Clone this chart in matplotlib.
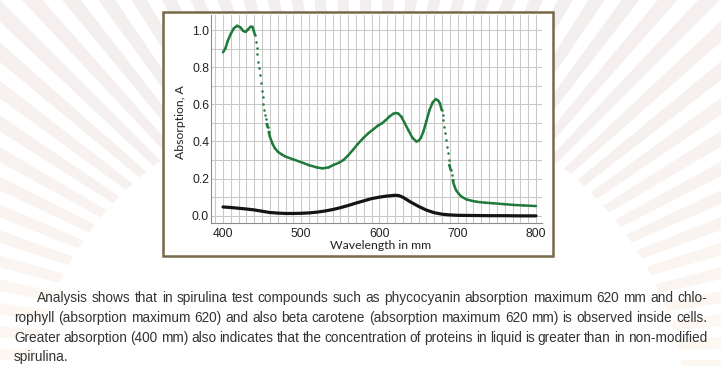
import numpy as np
import matplotlib
matplotlib.use("Agg")
import matplotlib.pyplot as plt
import matplotlib.colors as mcolors
from matplotlib.patches import Wedge, Circle, Rectangle
from matplotlib.collections import LineCollection

# ---------------- data ----------------
green_wl = [400, 403, 406, 410, 414, 418, 422, 426, 429, 432,
            435, 437, 438, 439.6, 440.9, 442.2, 443.0, 443.8, 445.1, 446.4,
            447.3, 448.6, 449.8, 450.7, 451.5, 452.4, 453.7, 454.6, 455.8, 457.1,
            458.4, 460, 463, 466, 470, 475, 480, 490, 500, 510,
            520, 527, 535, 541, 548, 554, 560, 566, 572, 579,
            586, 592, 598, 603, 608, 613, 618, 621, 624, 628,
            632, 637, 642, 647, 650, 653, 656, 660, 664, 668,
            672, 675, 677.3, 679.4, 680.7, 681.5, 682.8, 684.1, 685.0, 685.9,
            687.2, 688.4, 689.3, 691.0, 692.3, 693.6, 695.3, 697.8, 700.7, 705,
            711, 718, 724, 735, 745, 760, 771, 785, 800]
green_abs = [0.88, 0.90, 0.94, 0.98, 1.01, 1.023, 1.015, 0.995, 0.99, 1.003,
             1.017, 1.018, 1.014, 0.991, 0.973, 0.937, 0.901, 0.869, 0.829, 0.794,
             0.758, 0.713, 0.673, 0.638, 0.601, 0.569, 0.542, 0.519, 0.494, 0.476,
             0.452, 0.425, 0.39, 0.365, 0.345, 0.33, 0.318, 0.303, 0.288, 0.272,
             0.26, 0.255, 0.26, 0.273, 0.285, 0.30, 0.325, 0.354, 0.385, 0.417,
             0.445, 0.465, 0.485, 0.497, 0.515, 0.535, 0.55, 0.553, 0.55, 0.533,
             0.50, 0.46, 0.42, 0.40, 0.403, 0.42, 0.452, 0.51, 0.57, 0.61,
             0.628, 0.62, 0.605, 0.569, 0.542, 0.515, 0.479, 0.444, 0.408, 0.372,
             0.336, 0.300, 0.273, 0.246, 0.219, 0.192, 0.165, 0.138, 0.121, 0.102,
             0.088, 0.080, 0.075, 0.070, 0.067, 0.062, 0.058, 0.055, 0.052]

black_wl = [400, 410, 420, 430, 440, 450, 460, 470, 480, 490,
            500, 510, 520, 530, 540, 550, 560, 570, 580, 590,
            600, 610, 620, 625, 630, 640, 650, 660, 670, 680,
            690, 700, 720, 740, 760, 780, 800]
black_abs = [0.047, 0.044, 0.040, 0.036, 0.031, 0.024, 0.017, 0.014, 0.012, 0.012,
             0.013, 0.015, 0.019, 0.025, 0.033, 0.043, 0.055, 0.068, 0.080, 0.092,
             0.100, 0.106, 0.110, 0.108, 0.099, 0.073, 0.050, 0.030, 0.016, 0.008,
             0.004, 0.002, 0.001, 0.000, 0.000, -0.001, -0.001]

x_ticks = [400, 500, 600, 700, 800]
y_ticks = [0.0, 0.2, 0.4, 0.6, 0.8, 1.0]
x_label = "Wavelength in mm"
y_label = "Absorption, A"

paragraph = [
    "Analysis shows that in spirulina test compounds such as phycocyanin absorption maximum 620 mm and chlo-",
    "rophyll (absorption maximum 620) and also beta carotene (absorption maximum 620 mm) is observed inside cells.",
    "Greater absorption (400 mm) also indicates that the concentration of proteins in liquid is greater than in non-modified",
    "spirulina.",
]

# ---------------- figure / background ----------------
W, H = 721, 366
fig = plt.figure(figsize=(W / 100, H / 100), dpi=100)
bg = fig.add_axes([0, 0, 1, 1])
bg.set_xlim(0, W)
bg.set_ylim(H, 0)
bg.axis("off")

cx, cy = 360, 360
c_top = np.array(mcolors.to_rgb("#f4efef"))
c_low = np.array(mcolors.to_rgb("#fdf7f1"))
step = 3.6
for a in np.arange(0, 360, step):
    mid = np.deg2rad(a + step / 4)
    up = -np.sin(mid)
    t = np.clip((up - 0.1) / 0.7, 0, 1)
    col = c_low * (1 - t) + c_top * t
    bg.add_patch(Wedge((cx, cy), 900, a, a + step / 2, facecolor=col,
                       edgecolor="none", zorder=0))
bg.add_patch(Circle((357, 427), 331, facecolor="white", edgecolor="none", zorder=1))
bg.add_patch(Rectangle((163, 12), 390, 244, facecolor="white",
                       edgecolor="#786848", lw=1.8, zorder=2))

# ---------------- paragraph (justified) ----------------
tfam = "Liberation Sans"
tcol = "#333333"
renderer = fig.canvas.get_renderer()


def wwidth(s, fs):
    t = bg.text(0, 0, s, fontsize=fs, family=tfam)
    w = t.get_window_extent(renderer).width
    t.remove()
    return w


fs = 10.0 * (707 - 14) / wwidth(paragraph[1], 10.0)
space_w = wwidth("x x", fs) - wwidth("xx", fs)
starts = [37, 14, 14, 14]
baselines = [302, 322, 342, 361]
x_end = 707
for i, line in enumerate(paragraph):
    words = line.split(" ")
    widths = [wwidth(w, fs) for w in words]
    if i < len(paragraph) - 1:
        gap = (x_end - starts[i] - sum(widths)) / (len(words) - 1)
    else:
        gap = space_w
    x = starts[i]
    for w, wd in zip(words, widths):
        bg.text(x, baselines[i], w, fontsize=fs, family=tfam, color=tcol,
                ha="left", va="baseline", zorder=3)
        x += wd + gap

# ---------------- chart axes ----------------
L, R, T, B = 210.7, 541.7, 15.0, 223.3
ax = fig.add_axes([L / W, 1 - B / H, (R - L) / W, (B - T) / H])
ax.set_facecolor("white")
ax.set_xlim(384.3, 807.3)
ax.set_ylim(-0.041, 1.081)

ax.set_xticks(x_ticks)
ax.set_xticklabels([str(v) for v in x_ticks])
ax.set_yticks(y_ticks)
ax.set_yticklabels([f"{v:.1f}" for v in y_ticks])
ax.set_xticks(np.arange(390, 801, 10), minor=True)
ax.set_yticks(np.arange(0, 1.001, 0.1), minor=True)
ax.grid(which="both", color="#c8c8c8", lw=0.75, zorder=0)
ax.set_axisbelow(True)
ax.tick_params(axis="both", which="both", length=0, labelsize=8.7,
               labelcolor="#222222")
ax.tick_params(axis="y", pad=1.2)
ax.tick_params(axis="x", pad=3.2)
for lab in ax.get_xticklabels() + ax.get_yticklabels():
    lab.set_family(tfam)
for s in ["top", "right"]:
    ax.spines[s].set_visible(False)
for s in ["left", "bottom"]:
    ax.spines[s].set_color("#8c8c8c")
    ax.spines[s].set_linewidth(0.8)

ax.set_xlabel(x_label, family="Lato", fontsize=8.8, color="#222222")
ax.set_ylabel(y_label, family="Lato", fontsize=8.8, color="#222222")
ax.xaxis.set_label_coords((380.7 - L) / (R - L), (B - 245.5) / (B - T))
ax.xaxis.label.set_va("center")
ax.yaxis.set_label_coords((180 - L) / (R - L), (B - 122) / (B - T))
ax.yaxis.label.set_va("center")

# black curve
ax.plot(black_wl, black_abs, color="#141414", lw=2.3, solid_capstyle="round",
        zorder=3)

# green curve: solid where gentle, dotted samples where steep
gw = np.array(green_wl, dtype=float)
ga = np.array(green_abs, dtype=float)
slope = np.abs(np.diff(ga) / np.diff(gw))
steep = slope > 0.018
green = "#1f7a3b"
segs = [[(gw[i], ga[i]), (gw[i + 1], ga[i + 1])] for i in range(len(gw) - 1)
        if not steep[i]]
ax.add_collection(LineCollection(segs, colors=green, linewidths=1.8,
                                 capstyle="round", joinstyle="round", zorder=4))
dot_idx = sorted(set(np.where(steep)[0]).union(set(np.where(steep)[0] + 1)))
ax.plot(gw[dot_idx], ga[dot_idx], linestyle="none", marker="o", ms=1.8,
        mfc=green, mec=green, mew=0, zorder=4)

fig.savefig("out.png", dpi=100)
